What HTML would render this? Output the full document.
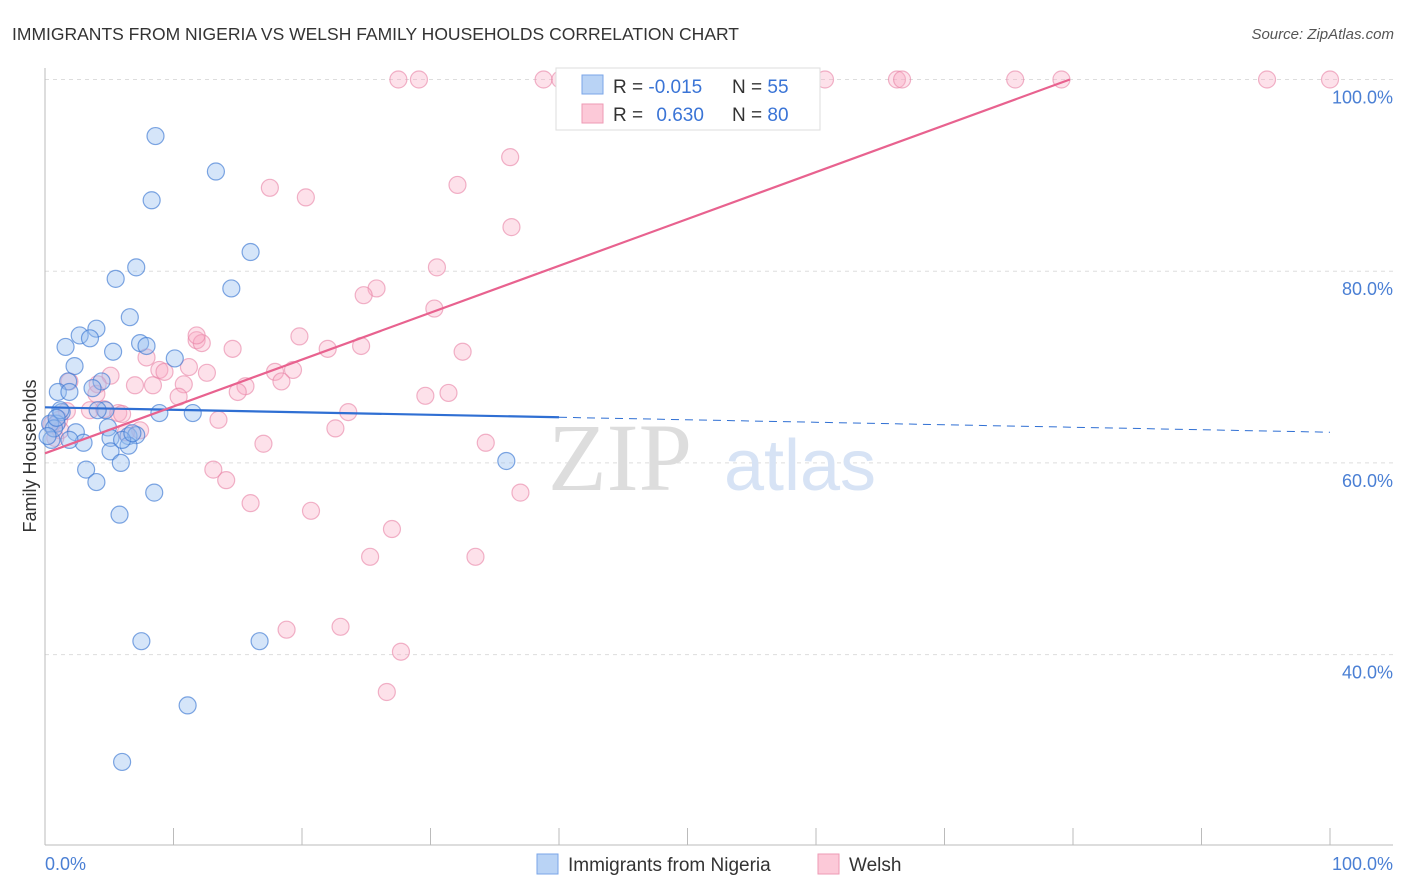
<!DOCTYPE html>
<html><head><meta charset="utf-8"><style>
body{margin:0;background:#fff;font-family:"Liberation Sans",sans-serif}
svg{display:block}
</style></head><body>
<svg id="chart" width="1406" height="892" xmlns="http://www.w3.org/2000/svg">
<text x="12" y="40" font-size="17.5" fill="#333">IMMIGRANTS FROM NIGERIA VS WELSH FAMILY HOUSEHOLDS CORRELATION CHART</text>
<text x="1394" y="39" font-size="15" font-style="italic" fill="#555" text-anchor="end">Source: ZipAtlas.com</text>
<g id="grid"></g>
<text x="620" y="490" font-size="96" font-family="Liberation Serif,serif" fill="#ddd" text-anchor="middle">ZIP</text>
<text x="800" y="490" font-size="72" fill="#d7e3f5" text-anchor="middle">atlas</text>
<g id="pts"></g>
<g id="lines"></g>
<text x="36" y="456" font-size="18" fill="#333" text-anchor="middle" transform="rotate(-90 36 456)">Family Households</text>
<text x="45" y="870" font-size="18" fill="#4a7fd4">0.0%</text>
<text x="1393" y="870" font-size="18" fill="#4a7fd4" text-anchor="end">100.0%</text>
<g>
<rect x="556" y="68" width="264" height="62" fill="#fff" stroke="#ddd"/>
<rect x="582" y="75" width="21" height="19" fill="#b9d3f5" stroke="#7aa6e8"/>
<rect x="582" y="104" width="21" height="19" fill="#fcc9d8" stroke="#ee9ab4"/>
<text x="613" y="93" font-size="19" fill="#333">R = <tspan fill="#3a74d6">-0.015</tspan></text>
<text x="732" y="93" font-size="19" fill="#333">N = <tspan fill="#3a74d6">55</tspan></text>
<text x="613" y="121" font-size="19" fill="#333">R = <tspan fill="#3a74d6" dx="8">0.630</tspan></text>
<text x="732" y="121" font-size="19" fill="#333">N = <tspan fill="#3a74d6">80</tspan></text>
</g>
<g>
<rect x="537" y="854" width="21" height="20" fill="#b9d3f5" stroke="#7aa6e8"/>
<text x="568" y="871" font-size="19" fill="#333">Immigrants from Nigeria</text>
<rect x="818" y="854" width="21" height="20" fill="#fcc9d8" stroke="#ee9ab4"/>
<text x="849" y="871" font-size="19" fill="#333">Welsh</text>
</g>
</svg>
<script>
const yTicks=[40,60,80,100];
const yTickLabels=["40.0%","60.0%","80.0%","100.0%"];
const xTicks=[0,10,20,30,40,50,60,70,80,90,100];
const blueX=[8.6,13.3,8.3,16.0,7.1,5.5,14.5,6.6,4.0,2.7,3.5,1.6,7.4,7.9,5.3,10.1,2.3,1.8,4.4,3.7,1.0,1.9,1.3,4.7,8.9,11.5,0.9,0.4,4.9,0.5,2.4,5.1,3.0,6.5,7.1,6.5,5.1,5.9,3.2,4.0,8.5,5.8,35.9,7.5,16.7,11.1,6.0,0.7,0.2,1.2,4.1,6.0,1.9,6.8,0.9];
const blueY=[94.1,90.4,87.4,82.0,80.4,79.2,78.2,75.2,74.0,73.3,73.0,72.1,72.5,72.2,71.6,70.9,70.1,68.5,68.5,67.8,67.4,67.4,65.3,65.5,65.2,65.2,64.1,64.1,63.7,62.4,63.2,62.6,62.1,62.8,62.9,61.8,61.2,60.0,59.3,58.0,56.9,54.6,60.2,41.4,41.4,34.7,28.8,63.6,62.8,65.5,65.5,62.4,62.4,63.1,64.7];
const pinkX=[27.5,29.1,38.8,40.1,41.2,45.7,47.9,55.4,60.7,66.3,66.7,75.5,79.1,95.1,100,36.2,32.1,17.5,20.3,36.3,30.5,25.8,24.8,30.3,19.8,11.8,12.2,14.6,22.0,24.6,32.5,7.9,11.2,8.9,9.3,19.3,17.9,12.6,5.1,1.9,4.1,7.0,8.4,10.8,15.6,18.4,15.0,10.4,29.6,31.4,4.0,4.6,5.7,6.0,3.5,1.7,1.1,0.5,1.2,0.8,7.4,6.3,23.6,13.5,22.6,34.3,17.0,13.1,14.1,37.0,16.0,20.7,27.0,25.3,33.5,18.8,23.0,27.7,26.6,11.8];
const pinkY=[100,100,100,100,100,100,100,100,100,100,100,100,100,100,100,91.9,89.0,88.7,87.7,84.6,80.4,78.2,77.5,76.1,73.2,72.8,72.5,71.9,71.9,72.2,71.6,71.0,70.0,69.7,69.5,69.7,69.5,69.4,69.1,68.5,68.2,68.1,68.1,68.2,68.0,68.5,67.4,66.9,67.0,67.3,67.2,65.6,65.2,65.1,65.5,65.4,64.5,64.0,63.4,62.6,63.4,63.2,65.3,64.5,63.6,62.1,62.0,59.3,58.2,56.9,55.8,55.0,53.1,50.2,50.2,42.6,42.9,40.3,36.1,73.3];
const blueTrend=[65.8,63.2];
const pinkTrend=[61.0,0.489];
const NS="http://www.w3.org/2000/svg";
const sx=v=>45+v*12.85, sy=v=>1038-v*9.585;
function mk(tag,attrs,parent){const e=document.createElementNS(NS,tag);for(const k in attrs)e.setAttribute(k,attrs[k]);parent.appendChild(e);return e;}
const grid=document.getElementById('grid');
yTicks.forEach((t,i)=>{
  const l=mk('line',{x1:45,x2:1393,y1:sy(t),y2:sy(t),stroke:'#ddd','stroke-dasharray':'4 4'},grid);
  
  
  const tx=mk('text',{x:1393,y:sy(t)+24,'font-size':18,fill:'#4a7fd4','text-anchor':'end'},grid);
  tx.textContent=yTickLabels[i];
  
  
});
const ax=mk('line',{x1:45,x2:45,y1:68,y2:845,stroke:'#bbb'},grid);


const bx=mk('line',{x1:45,x2:1393,y1:845,y2:845,stroke:'#bbb'},grid);


xTicks.forEach(t=>{
  const l=mk('line',{x1:sx(t),x2:sx(t),y1:828,y2:845,stroke:'#bbb'},grid);
  
  
});
const pts=document.getElementById('pts');
pinkX.forEach((x,i)=>{
  const c=mk('circle',{cx:sx(x),cy:sy(pinkY[i]),r:8.5,fill:'rgba(248,170,195,0.35)',stroke:'rgba(232,130,165,0.6)','stroke-width':1.2},pts);
  
  
});
blueX.forEach((x,i)=>{
  const c=mk('circle',{cx:sx(x),cy:sy(blueY[i]),r:8.5,fill:'rgba(150,190,240,0.4)',stroke:'rgba(60,120,210,0.65)','stroke-width':1.2},pts);
  
  
});
const lines=document.getElementById('lines');
const bAt=x=>blueTrend[0]+(blueTrend[1]-blueTrend[0])*x/100;
const b1=mk('line',{x1:sx(0),y1:sy(bAt(0)),x2:sx(40),y2:sy(bAt(40)),stroke:'#2f6fd3','stroke-width':2.2},lines);


const b2=mk('line',{x1:sx(40),y1:sy(bAt(40)),x2:sx(100),y2:sy(bAt(100)),stroke:'#2f6fd3','stroke-width':1,'stroke-dasharray':'8 6'},lines);


const pEnd=(100-pinkTrend[0])/pinkTrend[1];
const p1=mk('line',{x1:sx(0),y1:sy(pinkTrend[0]),x2:sx(pEnd),y2:sy(100),stroke:'#e8628f','stroke-width':2.2},lines);


</script>
</body></html>
